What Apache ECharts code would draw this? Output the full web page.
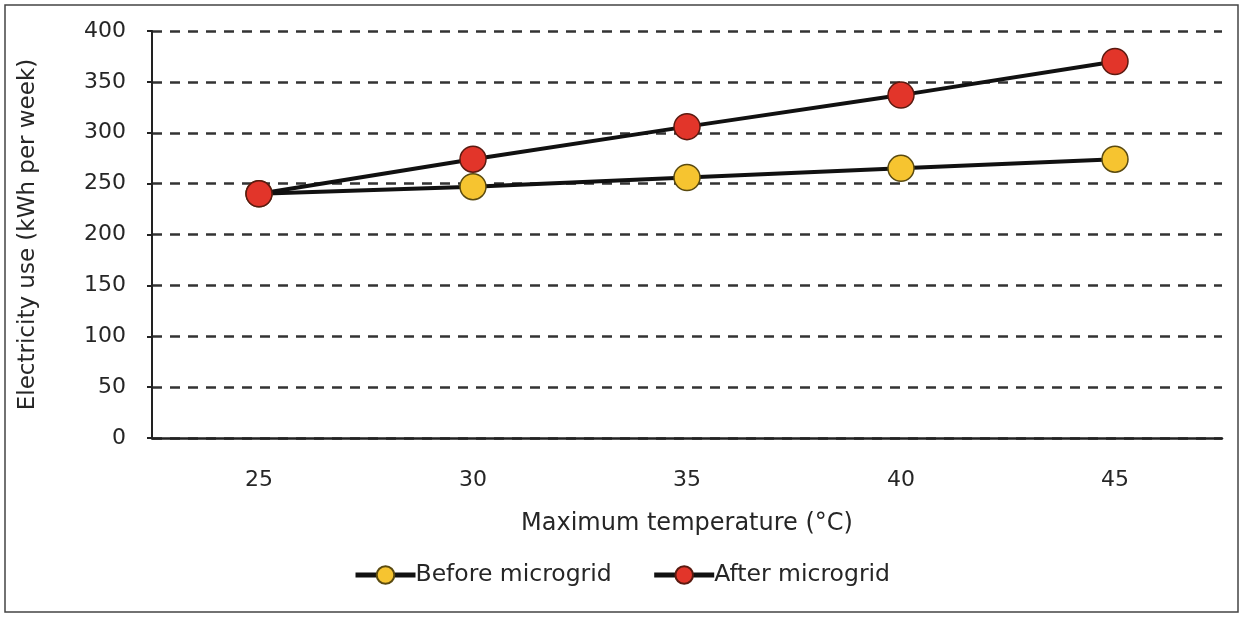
<!DOCTYPE html>
<html><head><meta charset="utf-8">
<script src="https://cdn.jsdelivr.net/npm/echarts@6/dist/echarts.min.js"></script>
<style>html,body{margin:0;padding:0;background:#fff}#c{width:1243px;height:618px}</style>
</head><body><div id="c"></div>
<script>
const categories = ['25','30','35','40','45'];
const beforeValues = [240, 247, 256, 265, 274];
const afterValues = [240, 274, 306, 337, 370];
const yTicks = [0, 50, 100, 150, 200, 250, 300, 350, 400];

const chart = echarts.init(document.getElementById('c'));
const font = '"DejaVu Sans", "Open Sans", sans-serif';
const txt = '#262626';
chart.setOption({
  animation: false,
  backgroundColor: '#fff',
  graphic: [{type:'rect', shape:{x:5,y:5,width:1233,height:607}, style:{fill:'none', stroke:'#444', lineWidth:1.5}, z:-1}],
  grid: {left:152, right:21, top:31, bottom:180, containLabel:false},
  legend: {
    bottom: 26, left: 'center', itemWidth: 60, itemHeight: 22, itemGap: 40,
    lineStyle: {width: 5, color: '#111'},
    textStyle: {fontFamily: font, fontSize: 23.5, color: txt, padding:[0,0,0,-5]},
    data: ['Before microgrid', 'After microgrid']
  },
  xAxis: {
    type: 'category', data: categories, boundaryGap: true, z: 5,
    name: 'Maximum temperature (°C)', nameLocation: 'middle', nameGap: 74,
    nameTextStyle: {fontFamily: font, fontSize: 24, color: txt},
    axisLine: {lineStyle:{color:'#222', width:2.5}},
    axisTick: {show:false},
    axisLabel: {fontFamily: font, fontSize: 22, color: txt, margin: 31}
  },
  yAxis: {
    type: 'value', min: yTicks[0], max: yTicks[yTicks.length-1], interval: 50,
    name: 'Electricity use (kWh per week)', nameLocation: 'middle', nameGap: 112, nameRotate: 90,
    nameTextStyle: {fontFamily: font, fontSize: 23, color: txt},
    axisLine: {show:true, lineStyle:{color:'#222', width:2}},
    axisTick: {show:true, inside:false, length:5, lineStyle:{color:'#222', width:2}},
    axisLabel: {fontFamily: font, fontSize: 22, color: txt, margin: 26},
    splitLine: {show:true, lineStyle:{color:'#333', width:2.5, type:[10,8]}}
  },
  series: [
    {name:'Before microgrid', type:'line', data: beforeValues, symbol:'circle', symbolSize:26,
     lineStyle:{color:'#111', width:4}, itemStyle:{color:'#F6C430', borderColor:'#5a4a10', borderWidth:1.5}, z:3},
    {name:'After microgrid', type:'line', data: afterValues, symbol:'circle', symbolSize:26,
     lineStyle:{color:'#111', width:4}, itemStyle:{color:'#E2352A', borderColor:'#5a1a10', borderWidth:1.5}, z:4}
  ]
});
</script></body></html>
